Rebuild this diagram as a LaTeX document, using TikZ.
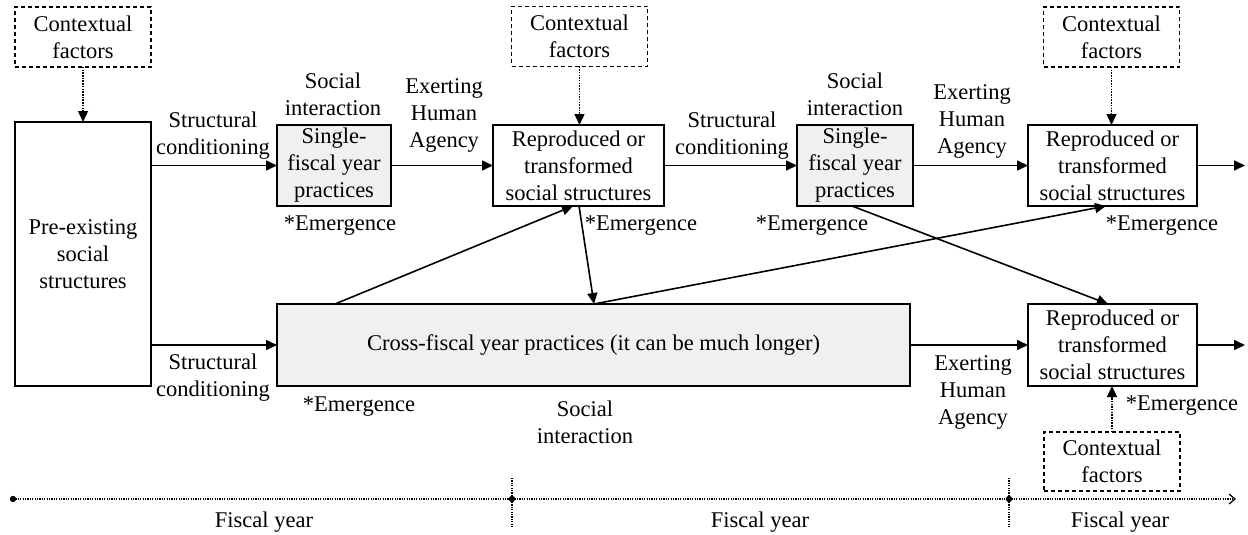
\documentclass[tikz,border=0pt]{standalone}
\usepackage{fontspec}
\setmainfont{Liberation Serif}
\usetikzlibrary{arrows.meta,calc}
\begin{document}
\begin{tikzpicture}[x=1pt,y=-1pt,
  every node/.style={font=\fontsize{22.5}{27}\selectfont, align=center, inner sep=0pt, outer sep=0pt},
  box/.style={draw, line width=1.1pt},
  ctxbox/.style={draw, line width=1.1pt, dash pattern=on 4pt off 3pt, minimum width=136pt, minimum height=60pt},
  grey/.style={fill=black!6},
  arr/.style={line width=1.6pt, -{Triangle[length=11pt,width=10pt]}},
  dotarr/.style={line width=1.4pt, dash pattern=on 1.5pt off 1.2pt, -{Triangle[length=11pt,width=10pt]}},
  tline/.style={line width=1.2pt, dash pattern=on 1.2pt off 1.2pt},
  lbl/.style={}]
\useasboundingbox (0,0) rectangle (1248,535);

% boxes
\node[box, minimum width=136pt, minimum height=264pt] (pre) at (83,254) {Pre-existing\\social\\structures};
\node[ctxbox] (ctx1) at (83,37) {Contextual\\factors};
\node[box, grey, minimum width=114pt, minimum height=81pt] (sfy1) at (334,165.5) {Single-\\fiscal year\\practices};
\node[box, minimum width=171pt, minimum height=81pt] (rep1) at (578.5,165.5) {Reproduced or\\transformed\\social structures};
\node[ctxbox] (ctx2) at (579.5,36.5) {Contextual\\factors};
\node[box, grey, minimum width=116pt, minimum height=81pt] (sfy2) at (855,165.5) {Single-\\fiscal year\\practices};
\node[box, minimum width=169pt, minimum height=81pt] (rep2) at (1112.5,165.5) {Reproduced or\\transformed\\social structures};
\node[ctxbox] (ctx3) at (1111.5,37) {Contextual\\factors};
\node[box, grey, minimum width=633pt, minimum height=82pt] (cross) at (593.5,345) {Cross-fiscal year practices (it can be much longer)};
\node[box, minimum width=169pt, minimum height=82pt] (rep3) at (1112.5,345) {Reproduced or\\transformed\\social structures};
\node[ctxbox, minimum height=59pt] (ctx4) at (1112,461.5) {Contextual\\factors};

\coordinate (out1) at (1245,165.5);
\coordinate (out2) at (1245,345);

% main flow
\draw[arr] (pre.east |- sfy1.west) -- (sfy1.west);
\draw[arr] (sfy1.east) -- (rep1.west);
\draw[arr] (rep1.east) -- (sfy2.west);
\draw[arr] (sfy2.east) -- (rep2.west);
\draw[arr] (rep2.east) -- (out1);
\draw[arr] (pre.east |- cross.west) -- (cross.west);
\draw[arr] (cross.east) -- (rep3.west);
\draw[arr] (rep3.east) -- (out2);

% contextual influences
\draw[dotarr] (ctx1.south) -- (pre.north);
\draw[dotarr] (ctx2.south) -- (ctx2.south |- rep1.north);
\draw[dotarr] (ctx3.south) -- (ctx3.south |- rep2.north);
\draw[dotarr] (ctx4.north) -- (ctx4.north |- rep3.south);

% cross links
\draw[arr] ($(cross.north west)+(58,0)$) -- ($(rep1.south west)+(80,0)$);
\draw[arr] ($(rep1.south west)+(86,0)$) -- ($(cross.north west)+(317,0)$);
\draw[arr] ($(cross.north west)+(317,0)$) -- ($(rep2.south west)+(78,0)$);
\draw[arr] ($(sfy2.south west)+(55,0)$) -- ($(rep3.north west)+(80,0)$);

% labels
\node[lbl] (sc1) at (213,136) {Structural\\conditioning};
\node[lbl] (sc2) at (732,136) {Structural\\conditioning};
\node[lbl] (sc3) at (213,378) {Structural\\conditioning};
\node[lbl] (si1) at (333,94) {Social\\interaction};
\node[lbl] (si2) at (855,94) {Social\\interaction};
\node[lbl] (si3) at (585,422) {Social\\interaction};
\node[lbl] (ha1) at (444,115) {Exerting\\Human\\Agency};
\node[lbl] (ha2) at (972,121) {Exerting\\Human\\Agency};
\node[lbl] (ha3) at (973,392) {Exerting\\Human\\Agency};
\node[lbl] (em1) at (340,226) {*Emergence};
\node[lbl] (em2) at (641,226) {*Emergence};
\node[lbl] (em3) at (812,226) {*Emergence};
\node[lbl] (em4) at (1162,226) {*Emergence};
\node[lbl] (em5) at (359,407) {*Emergence};
\node[lbl] (em6) at (1182,406) {*Emergence};

% time line
\coordinate (t0) at (13,499);
\coordinate (t1) at (512,499);
\coordinate (t2) at (1009,499);
\coordinate (tend) at (1236,499);
\coordinate (k1a) at (512,478);
\coordinate (k1b) at (512,527);
\coordinate (k2a) at (1009,478);
\coordinate (k2b) at (1009,527);
\draw[tline, -{Straight Barb[length=6pt,width=10pt,line width=1.2pt]}] (t0) -- (tend);
\draw[tline] (k1a) -- (k1b);
\draw[tline] (k2a) -- (k2b);
\fill (t0) circle (3.2pt);
\fill (t1) circle (3.2pt);
\fill (t2) circle (3.2pt);
\node[lbl] (fy1) at (264,522) {Fiscal year};
\node[lbl] (fy2) at (760,522) {Fiscal year};
\node[lbl] (fy3) at (1120,522) {Fiscal year};
\end{tikzpicture}
\end{document}
